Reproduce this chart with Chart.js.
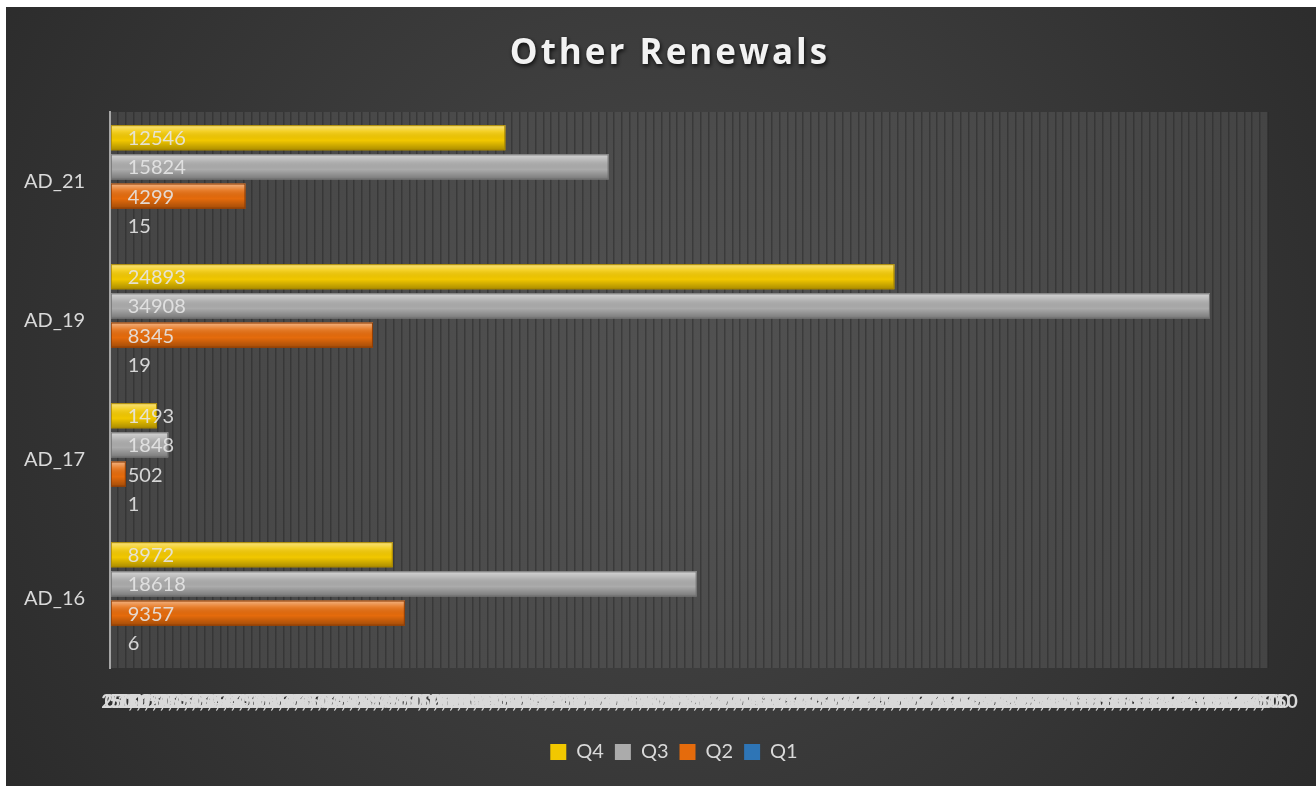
<!DOCTYPE html>
<html>
<head>
<meta charset="utf-8">
<script src="https://cdn.jsdelivr.net/npm/chart.js@4/dist/chart.umd.min.js"></script>
<style>
    html, body { margin: 0; padding: 0; background: #ffffff; }
    #wrap { position: absolute; left: 6px; top: 7px; width: 1310px; height: 779px; }
</style>
</head>
<body>
<div id="wrap"><canvas id="renewalsChart"></canvas></div>
<script>
// data
const categories = ['AD_21', 'AD_19', 'AD_17', 'AD_16'];
const q4 = [12546, 24893, 1493, 8972];
const q3 = [15824, 34908, 1848, 18618];
const q2 = [4299, 8345, 502, 9357];
const q1 = [15, 19, 1, 6];
const seriesNames = ['Q4', 'Q3', 'Q2', 'Q1'];
const axisMax = 36750;
const axisStep = 250;

const FONT = 'Lato, "Open Sans", sans-serif';
const colors = ['#f2c800', '#ababab', '#e56b0c', '#2e75b6'];
const edges = ['#a88600', '#707070', '#8f3d05', '#1f4e79'];

// background, plot area and title
const backdrop = {
    id: 'backdrop',
    beforeDraw(chart) {
        const { ctx, width, height, chartArea: a } = chart;
        ctx.save();
        const g = ctx.createRadialGradient(width * 0.5, height * 0.45, 50, width * 0.5, height * 0.45, width * 0.7);
        g.addColorStop(0, '#474747');
        g.addColorStop(1, '#262626');
        ctx.fillStyle = g;
        ctx.fillRect(0, 0, width, height);
        const p = ctx.createRadialGradient((a.left + a.right) / 2, (a.top + a.bottom) / 2, 40, (a.left + a.right) / 2, (a.top + a.bottom) / 2, a.width * 0.6);
        p.addColorStop(0, '#515151');
        p.addColorStop(1, '#434343');
        ctx.fillStyle = p;
        ctx.fillRect(a.left, a.top, a.width, a.height);

        ctx.font = 'bold 35px "Open Sans", sans-serif';
        ctx.letterSpacing = '3px';
        ctx.textAlign = 'center';
        ctx.textBaseline = 'middle';
        ctx.shadowColor = 'rgba(0,0,0,0.8)';
        ctx.shadowBlur = 4;
        ctx.shadowOffsetX = 1;
        ctx.shadowOffsetY = 2;
        ctx.fillStyle = '#f2f2f2';
        ctx.fillText('Other Renewals', 664, 47);
        ctx.restore();
    }
};

// bevel shading, edges and value labels
const barDecor = {
    id: 'barDecor',
    afterDatasetsDraw(chart) {
        const ctx = chart.ctx;
        ctx.save();
        chart.data.datasets.forEach((ds, di) => {
            const meta = chart.getDatasetMeta(di);
            meta.data.forEach((bar, i) => {
                const { x, y, base, height } = bar.getProps(['x', 'y', 'base', 'height'], true);
                const top = y - height / 2;
                if (x - base > 1) {
                    const g = ctx.createLinearGradient(0, top, 0, top + height);
                    g.addColorStop(0, 'rgba(255,255,255,0.5)');
                    g.addColorStop(0.25, 'rgba(255,255,255,0.15)');
                    g.addColorStop(0.6, 'rgba(0,0,0,0)');
                    g.addColorStop(1, 'rgba(0,0,0,0.3)');
                    ctx.fillStyle = g;
                    ctx.fillRect(base, top, x - base, height);
                    ctx.strokeStyle = edges[di];
                    ctx.lineWidth = 1;
                    ctx.strokeRect(base + 0.5, top + 0.5, x - base - 1, height - 1);
                }
                ctx.font = '20px ' + FONT;
                ctx.textAlign = 'left';
                ctx.textBaseline = 'middle';
                ctx.fillStyle = 'rgba(230,230,230,0.9)';
                ctx.fillText(String(ds.data[i]), base + 17, y + 1);
            });
        });
        ctx.restore();
    }
};

const allSeries = [q4, q3, q2, q1];

new Chart(document.getElementById('renewalsChart'), {
    type: 'bar',
    data: {
        labels: categories,
        datasets: allSeries.map((vals, k) => ({
            label: seriesNames[k],
            data: vals,
            backgroundColor: colors[k],
            borderWidth: 0,
            categoryPercentage: 0.84,
            barPercentage: 0.86
        }))
    },
    options: {
        indexAxis: 'y',
        responsive: true,
        maintainAspectRatio: false,
        animation: false,
        layout: { padding: { top: 105, left: 74, right: 48, bottom: 14 } },
        plugins: {
            title: { display: false },
            tooltip: { enabled: false },
            legend: {
                position: 'bottom',
                labels: {
                    color: '#d9d9d9',
                    font: { family: FONT, size: 20 },
                    boxWidth: 16,
                    boxHeight: 16,
                    padding: 11
                }
            }
        },
        scales: {
            x: {
                min: 0,
                max: axisMax,
                ticks: {
                    stepSize: axisStep,
                    autoSkip: false,
                    maxRotation: 0,
                    minRotation: 0,
                    padding: 22,
                    color: '#d9d9d9',
                    font: { family: FONT, size: 19, weight: 'bold' }
                },
                grid: { color: 'rgba(30,30,30,0.4)', lineWidth: 1.5, drawTicks: false },
                border: { display: false },
                afterFit(scale) {
                    scale.height = 63;
                    scale.paddingLeft = 0;
                    scale.paddingRight = 0;
                }
            },
            y: {
                ticks: {
                    mirror: true,
                    padding: -86,
                    color: '#d9d9d9',
                    font: { family: FONT, size: 20 }
                },
                grid: { display: false, drawTicks: false },
                border: { display: true, color: '#a6a6a6', width: 2, z: 1 },
                afterFit(scale) { scale.width = 30; }
            }
        }
    },
    plugins: [backdrop, barDecor]
});
</script>
</body>
</html>
